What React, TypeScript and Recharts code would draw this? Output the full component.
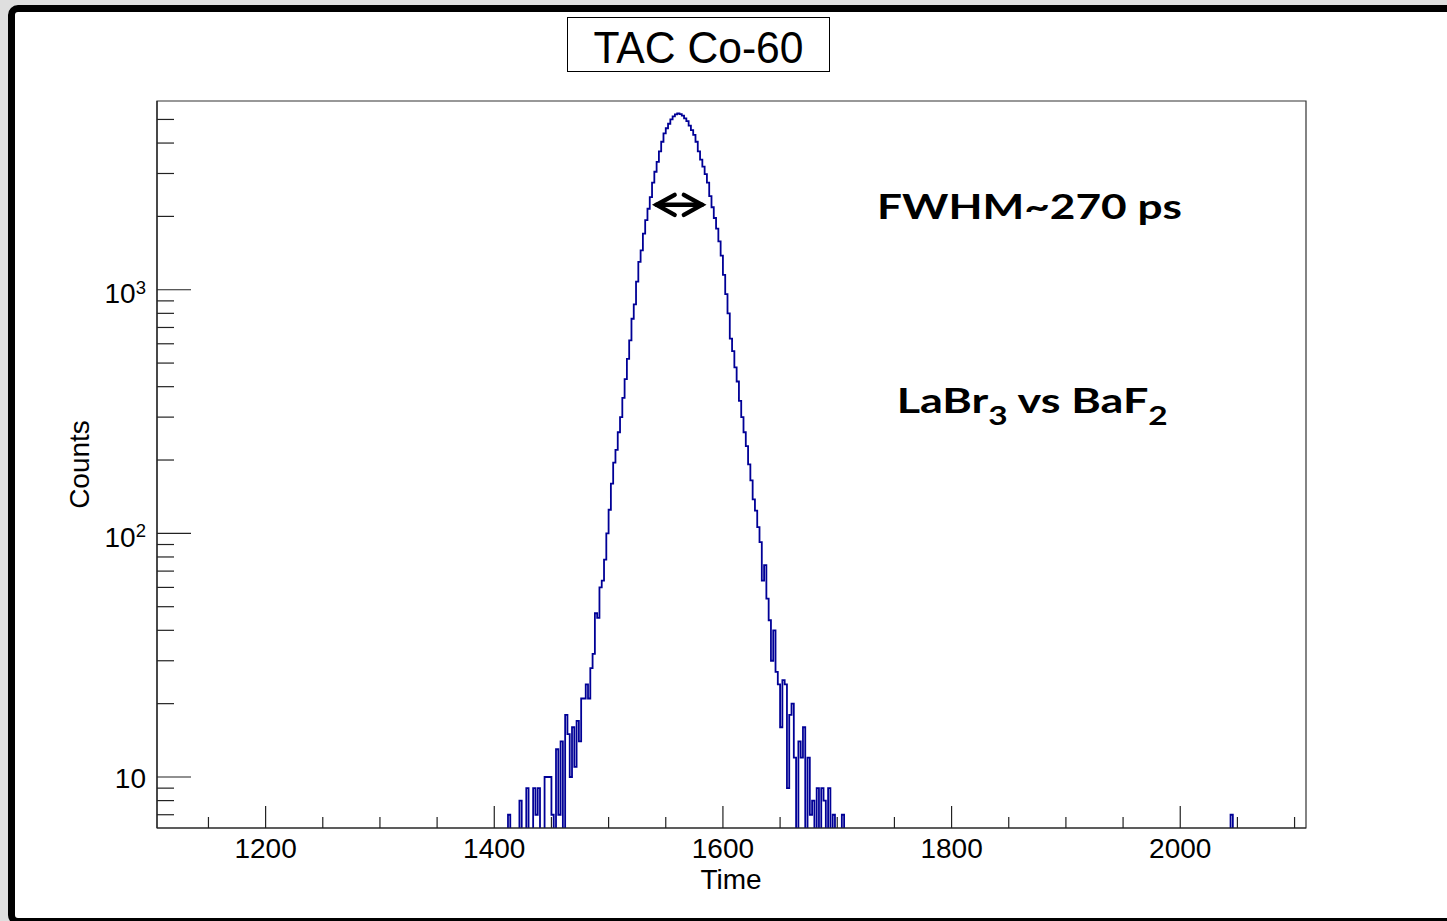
import React from 'react';
import { LineChart, Line, XAxis, YAxis, ReferenceArea, ReferenceLine } from 'recharts';

// ---- histogram data (TAC channel "Time", 2-unit bins) ----
const BIN_START = 1410;
const BIN_WIDTH = 2;
const counts: number[] = [
  0, 7, 0, 0, 0, 0, 8, 0, 0, 9, // 1410-1428
  0, 0, 9, 7, 9, 0, 0, 10, 10, 10, // 1430-1448
  7, 0, 13, 7, 14, 0, 18, 15, 10, 16, // 1450-1468
  11, 17, 14, 21, 21, 24, 21, 28, 32, 47, // 1470-1488
  45, 60, 64, 78, 100, 125, 160, 195, 220, 260, // 1490-1508
  300, 360, 430, 520, 620, 760, 870, 1080, 1300, 1450, // 1510-1528
  1700, 1930, 2150, 2400, 2750, 3050, 3350, 3700, 4050, 4380, // 1530-1548
  4600, 4800, 5000, 5150, 5250, 5300, 5260, 5180, 5050, 4920, // 1550-1568
  4720, 4520, 4320, 4050, 3700, 3420, 3200, 2980, 2750, 2420, // 1570-1588
  2180, 1970, 1780, 1580, 1380, 1150, 960, 800, 630, 560, // 1590-1608
  480, 420, 350, 300, 260, 228, 192, 165, 138, 124, // 1610-1628
  106, 92, 64, 74, 54, 44, 30, 40, 27, 24, // 1630-1648
  16, 25, 24, 9, 18, 20, 12, 0, 14, 12, // 1650-1668
  16, 0, 12, 7, 8, 0, 9, 0, 9, 8, // 1670-1688
  0, 9, 0, 7, 0, 0, 0, 7, 0, // 1690-1706
];
const strayBinStarts = [2044];
const strayBinCounts = [7];

// ---- axes ----
const X_DOMAIN: [number, number] = [1105, 2110];
const Y_DOMAIN: [number, number] = [6.175, 5952];
const xTicks = [1150, 1200, 1250, 1300, 1350, 1400, 1450, 1500, 1550, 1600, 1650, 1700, 1750, 1800, 1850, 1900, 1950, 2000, 2050, 2100];
const xLabelTicks = [1200, 1400, 1600, 1800, 2000];
const yTicks = [7, 8, 9, 10, 20, 30, 40, 50, 60, 70, 80, 90, 100, 200, 300, 400, 500, 600, 700, 800, 900, 1000, 2000, 3000, 4000, 5000];
const yDecades = [10, 100, 1000];
const yExponents = ['', '2', '3'];

const ZERO_FLOOR = 0.5; // empty bins drop below the log-axis frame (as ROOT draws them)

const data: { time: number; count: number }[] = [];
counts.forEach((c, i) => data.push({ time: BIN_START + i * BIN_WIDTH, count: c > 0 ? c : ZERO_FLOOR }));
data.push({ time: BIN_START + counts.length * BIN_WIDTH, count: ZERO_FLOOR });
strayBinStarts.forEach((t, i) => {
  data.push({ time: t, count: strayBinCounts[i] });
  data.push({ time: t + BIN_WIDTH, count: ZERO_FLOOR });
});

const AXIS_COLOR = '#222';
const TICK_FONT = '"Liberation Sans", Arial, Helvetica, sans-serif';

const XTick = (props: any) => {
  const { x, y, payload } = props;
  const v = payload.value as number;
  const major = xLabelTicks.includes(v);
  return (
    <g>
      <line x1={x} x2={x} y1={y} y2={y - (major ? 22 : 11)} stroke={AXIS_COLOR} strokeWidth={1.2} />
      {major && (
        <text x={x} y={y + 30} textAnchor="middle" fontFamily={TICK_FONT} fontSize={28} fill="#000">
          {v}
        </text>
      )}
    </g>
  );
};

const YTick = (props: any) => {
  const { x, y, payload } = props;
  const v = payload.value as number;
  const di = yDecades.indexOf(v);
  const major = di >= 0;
  return (
    <g>
      <line x1={x} x2={x + (major ? 34 : 17)} y1={y} y2={y} stroke={AXIS_COLOR} strokeWidth={1.2} />
      {major && yExponents[di] === '' && (
        <text x={x - 11} y={y + 11} textAnchor="end" fontFamily={TICK_FONT} fontSize={28} fill="#000">
          10
        </text>
      )}
      {major && yExponents[di] !== '' && (
        <text x={x - 11} y={y + 13.5} textAnchor="end" fontFamily={TICK_FONT} fontSize={28} fill="#000">
          10
          <tspan dy={-9.5} fontSize={18.5}>
            {yExponents[di]}
          </tspan>
        </text>
      )}
    </g>
  );
};

const ArrowShape = (p: any) => {
  const { x1, y1, x2, y2 } = p;
  const hx = 18;
  const hy = 10;
  return (
    <g stroke="#000" strokeWidth={4.5} strokeLinecap="round" strokeLinejoin="miter" fill="none">
      <line x1={x1} y1={y1} x2={x2} y2={y2} />
      <polyline points={`${x1 + hx},${y1 - hy} ${x1},${y1} ${x1 + hx},${y1 + hy}`} />
      <polyline points={`${x2 - hx},${y2 - hy} ${x2},${y2} ${x2 - hx},${y2 + hy}`} />
    </g>
  );
};

const ANNOT_FONT = 'Lato, "Open Sans", sans-serif';

export default function App() {
  return (
    <div style={{ position: 'fixed', left: 0, top: 0, width: 1447, height: 921, overflow: 'hidden', background: '#dfdfdf' }}>
      <div
        style={{
          position: 'absolute',
          left: 8,
          top: 5,
          width: 1470,
          height: 920,
          border: '7px solid #000',
          borderRadius: 10,
          background: '#fff',
          boxSizing: 'border-box',
        }}
      />
      <div style={{ position: 'absolute', left: 0, top: 0 }}>
        <LineChart width={1447} height={921} data={data} margin={{ top: 101, right: 141, bottom: 92, left: 156 }}>
          <XAxis
            dataKey="time"
            type="number"
            domain={X_DOMAIN}
            allowDataOverflow
            ticks={xTicks}
            interval={0}
            height={1}
            tickSize={0}
            tickMargin={0}
            tickLine={false}
            tick={XTick}
            axisLine={{ stroke: AXIS_COLOR, strokeWidth: 1.2 }}
          />
          <YAxis
            type="number"
            scale="log"
            domain={Y_DOMAIN}
            allowDataOverflow
            ticks={yTicks}
            interval={0}
            width={1}
            tickSize={0}
            tickMargin={0}
            tickLine={false}
            tick={YTick}
            axisLine={{ stroke: AXIS_COLOR, strokeWidth: 1.2 }}
          />
          <ReferenceArea
            x1={X_DOMAIN[0]}
            x2={X_DOMAIN[1]}
            y1={Y_DOMAIN[0]}
            y2={Y_DOMAIN[1]}
            fill="none"
            stroke="#333"
            strokeWidth={1.2}
            ifOverflow="visible"
          />
          <Line
            type="stepAfter"
            dataKey="count"
            stroke="#000096"
            strokeWidth={1.8}
            dot={false}
            isAnimationActive={false}
          />
          <ReferenceLine
            segment={[
              { x: 1542, y: 2230 },
              { x: 1581.6, y: 2230 },
            ]}
            shape={ArrowShape}
            ifOverflow="visible"
          />
        </LineChart>
      </div>
      <svg width={1447} height={921} style={{ position: 'absolute', left: 0, top: 0, pointerEvents: 'none' }}>
        <rect x={567.5} y={17.5} width={262} height={54} fill="#fff" stroke="#000" strokeWidth={1} />
        <text x={698.5} y={62.5} textAnchor="middle" fontFamily={TICK_FONT} fontSize={45} textLength={210} lengthAdjust="spacingAndGlyphs" fill="#000">
          TAC Co-60
        </text>
        <text x={731} y={889} textAnchor="middle" fontFamily={TICK_FONT} fontSize={28} fill="#000">
          Time
        </text>
        <text x={88.5} y={464.5} textAnchor="middle" fontFamily={TICK_FONT} fontSize={28} fill="#000" transform="rotate(-90 88.5 464.5)">
          Counts
        </text>
        <text x={877} y={219} fontFamily={ANNOT_FONT} fontWeight={700} fontSize={35} textLength={305} lengthAdjust="spacingAndGlyphs" fill="#000">
          FWHM~270 ps
        </text>
        <text x={896.7} y={413} fontFamily={ANNOT_FONT} fontWeight={700} fontSize={35} textLength={271} lengthAdjust="spacingAndGlyphs" fill="#000">
          LaBr
          <tspan dy={12} fontSize={26}>3</tspan>
          <tspan dy={-12}> vs BaF</tspan>
          <tspan dy={12} fontSize={26}>2</tspan>
        </text>
      </svg>
    </div>
  );
}
